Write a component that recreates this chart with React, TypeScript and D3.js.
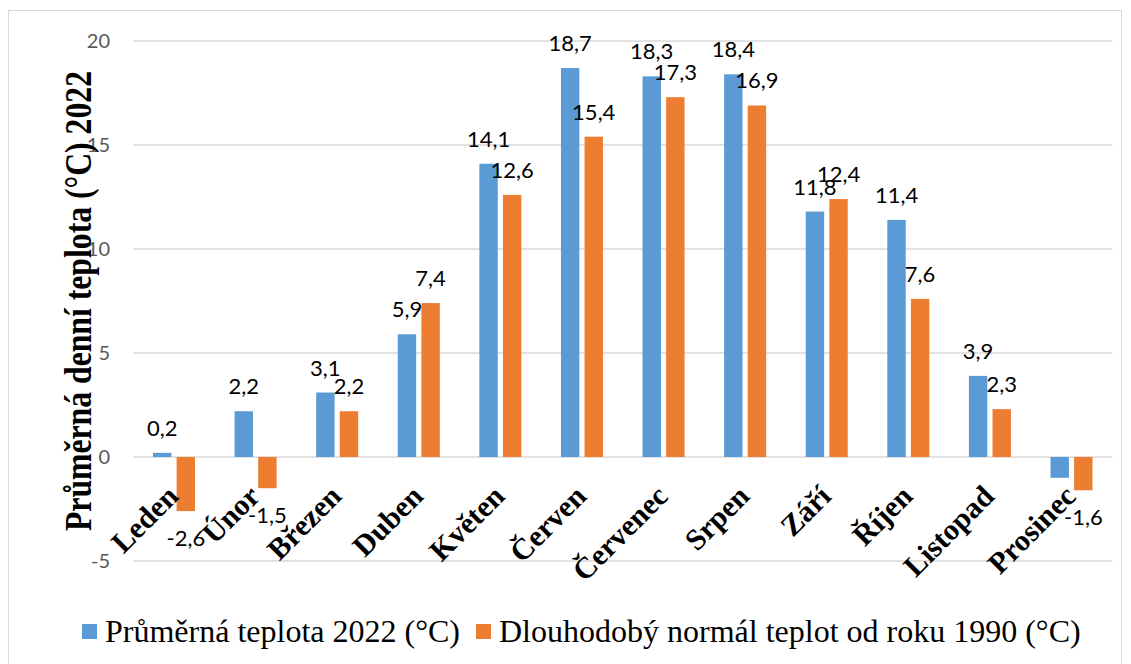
import React from "react";
import * as d3 from "d3";

const months = ["Leden", "Únor", "Březen", "Duben", "Květen", "Červen", "Červenec", "Srpen", "Září", "Říjen", "Listopad", "Prosinec"];
const temp2022 = [0.2, 2.2, 3.1, 5.9, 14.1, 18.7, 18.3, 18.4, 11.8, 11.4, 3.9, -1.0];
const normal1990 = [-2.6, -1.5, 2.2, 7.4, 12.6, 15.4, 17.3, 16.9, 12.4, 7.6, 2.3, -1.6];
const seriesNames = ["Průměrná teplota 2022 (°C)", "Dlouhodobý normál teplot od roku 1990 (°C)"];
const yTicks = [-5, 0, 5, 10, 15, 20];
const hiddenLabels = ["0-11"]; // series-month label not shown in the original
const colors = ["#5B9BD5", "#ED7D31"];
const yTitle = "Průměrná denní teplota (°C) 2022";

const W = 1131;
const H = 664;
const plot = { left: 133.2, right: 1112.3, top: 41, bottom: 561 };

export default function App() {
  const x = d3.scaleBand<string>().domain(months).range([plot.left, plot.right]).paddingInner(0.485).paddingOuter(0.2425);
  const inner = d3.scaleBand<number>().domain([0, 1]).range([0, x.bandwidth()]).paddingInner(0.22);
  const y = d3.scaleLinear().domain([-5, 20]).range([plot.bottom, plot.top]);
  const series = [temp2022, normal1990];
  const fmt = (v: number) => d3.format(".1f")(v).replace(".", ",").replace("\u2212", "-");
  const y0 = y(0);

  return (
    <svg width={W} height={H} style={{ position: "absolute", left: 0, top: 0, background: "#fff" }}>
      <rect x={8.5} y={10.5} width={1113} height={700} fill="#fff" stroke="#D9D9D9" strokeWidth={1} />
      {yTicks.map((t) => (
        <g key={t}>
          <line x1={plot.left} x2={plot.right} y1={y(t)} y2={y(t)} stroke="#D9D9D9" strokeWidth={1.5} />
          <text x={110} y={y(t)} dy="0.36em" textAnchor="end" fontFamily="Lato" fontSize={20} fill="#595959">
            {String(t)}
          </text>
        </g>
      ))}
      {series.map((vals, si) =>
        vals.map((v, mi) => {
          const bx = (x(months[mi]) as number) + (inner(si) as number);
          const top = Math.min(y(v), y0);
          const h = Math.abs(y(v) - y0);
          return <rect key={`b${si}-${mi}`} x={bx} y={top} width={inner.bandwidth()} height={h} fill={colors[si]} />;
        })
      )}
      {series.map((vals, si) =>
        vals.map((v, mi) => {
          if (hiddenLabels.includes(`${si}-${mi}`)) return null;
          const cx = (x(months[mi]) as number) + (inner(si) as number) + inner.bandwidth() / 2;
          const ly = v >= 0 ? y(v) - 17 : y(v) + 35;
          return (
            <text key={`l${si}-${mi}`} x={cx} y={ly} textAnchor="middle" fontFamily="Lato" fontSize={22} fill="#000">
              {fmt(v)}
            </text>
          );
        })
      )}
      {months.map((m) => {
        const cx = (x(m) as number) + x.bandwidth() / 2;
        const px = cx + 6;
        const py = y0 + 41;
        return (
          <text
            key={m}
            x={px}
            y={py}
            transform={`rotate(-45 ${px} ${py})`}
            textAnchor="end"
            fontFamily="Liberation Serif"
            fontWeight="bold"
            fontSize={30}
            fill="#000"
          >
            {m}
          </text>
        );
      })}
      <text
        x={91}
        y={(plot.top + plot.bottom) / 2}
        transform={`rotate(-90 91 ${(plot.top + plot.bottom) / 2})`}
        textAnchor="middle"
        fontFamily="Liberation Serif"
        fontWeight="bold"
        fontSize={37}
        textLength={460}
        lengthAdjust="spacingAndGlyphs"
        fill="#000"
      >
        {yTitle}
      </text>
      <g>
        <rect x={82} y={624} width={15} height={15} fill={colors[0]} />
        <text x={105} y={642} fontFamily="Liberation Serif" fontSize={32} fill="#000">
          {seriesNames[0]}
        </text>
        <rect x={476} y={624} width={15} height={15} fill={colors[1]} />
        <text x={499} y={642} fontFamily="Liberation Serif" fontSize={32} fill="#000">
          {seriesNames[1]}
        </text>
      </g>
    </svg>
  );
}
